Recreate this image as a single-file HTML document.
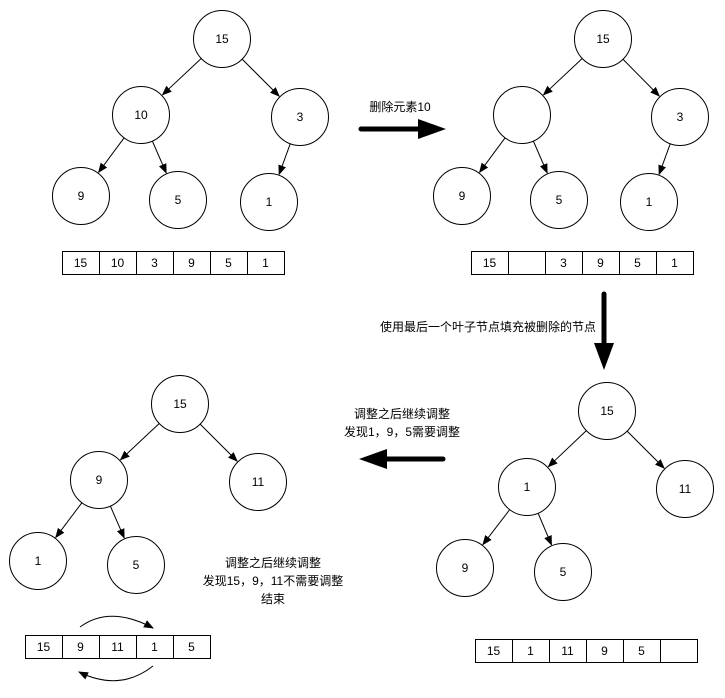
<!DOCTYPE html>
<html><head><meta charset="utf-8"><style>
html,body{margin:0;padding:0;background:#fff;}
svg{display:block}
text{font-family:"Liberation Sans","Noto Sans CJK SC",sans-serif;font-size:12px;fill:#000;}
</style></head><body>
<svg id="s" width="725" height="698" viewBox="0 0 725 698" xmlns="http://www.w3.org/2000/svg">
<defs>
<marker id="ah" markerWidth="10" markerHeight="10" refX="9" refY="5" orient="auto" markerUnits="userSpaceOnUse"><path d="M0,1 L10,5 L0,9 Z" fill="#000"/></marker>
</defs>
<g id="g" fill="#fff" stroke="#000" stroke-width="1"></g>
<g text-anchor="middle" dominant-baseline="central">
<text x="222" y="39">15</text><text x="141" y="115">10</text><text x="300" y="117">3</text>
<text x="81" y="196">9</text><text x="178" y="200">5</text><text x="269" y="202">1</text>
<text x="603" y="39">15</text><text x="680" y="117">3</text>
<text x="462" y="196">9</text><text x="559" y="200">5</text><text x="649" y="202">1</text>
<text x="607" y="411">15</text><text x="527" y="487">1</text><text x="685" y="489">11</text>
<text x="465" y="568">9</text><text x="563" y="572">5</text>
<text x="180" y="404">15</text><text x="99" y="480">9</text><text x="258" y="482">11</text>
<text x="38" y="561">1</text><text x="136" y="565">5</text>
<text x="80.5" y="263">15</text><text x="117.5" y="263">10</text><text x="154.5" y="263">3</text><text x="191.5" y="263">9</text><text x="228.5" y="263">5</text><text x="265.5" y="263">1</text>
<text x="489.5" y="263">15</text><text x="563.5" y="263">3</text><text x="600.5" y="263">9</text><text x="637.5" y="263">5</text><text x="674.5" y="263">1</text>
<text x="493.5" y="651">15</text><text x="530.5" y="651">1</text><text x="567.5" y="651">11</text><text x="604.5" y="651">9</text><text x="641.5" y="651">5</text>
<text x="43.5" y="647">15</text><text x="80.5" y="647">9</text><text x="117.5" y="647">11</text><text x="154.5" y="647">1</text><text x="191.5" y="647">5</text>
<text x="400" y="107">删除元素10</text>
<text x="488" y="327">使用最后一个叶子节点填充被删除的节点</text>
<text x="402" y="414">调整之后继续调整</text>
<text x="402" y="432">发现1，9，5需要调整</text>
<text x="273" y="563">调整之后继续调整</text>
<text x="273" y="581">发现15，9，11不需要调整</text>
<text x="273" y="599">结束</text>
</g>
<g stroke="#000" stroke-width="5" stroke-linecap="round" fill="none">
<line x1="361" y1="129" x2="420" y2="129"/>
<line x1="604" y1="294" x2="604" y2="345"/>
<line x1="443" y1="459" x2="385" y2="459"/>
</g>
<g fill="#000">
<path d="M418,119 L446,129 L418,139 Z"/>
<path d="M594,343 L604,370 L614,343 Z"/>
<path d="M387,449 L359,459 L387,469 Z"/>
</g>
<g fill="none" stroke="#000" stroke-width="1">
<path d="M80,627 Q110,605 153,628" marker-end="url(#ah)"/>
<path d="M153,666 Q120,692 79,672" marker-end="url(#ah)"/>
</g>
</svg>
<script>
var g=document.getElementById('g'),NS='http://www.w3.org/2000/svg';
function el(t,a){var e=document.createElementNS(NS,t);for(var k in a)e.setAttribute(k,a[k]);g.appendChild(e);return e;}
var R=28.5;
function tree(n,edges){
 edges.forEach(function(p){var a=n[p[0]],b=n[p[1]];var dx=b[0]-a[0],dy=b[1]-a[1],d=Math.hypot(dx,dy);
  el('line',{x1:a[0]+dx/d*R,y1:a[1]+dy/d*R,x2:b[0]-dx/d*(R+1),y2:b[1]-dy/d*(R+1),'marker-end':'url(#ah)'});});
 n.forEach(function(c){el('circle',{cx:c[0],cy:c[1],r:R});});
}
tree([[222,39],[141,115],[300,117],[81,196],[178,200],[269,202]],[[0,1],[0,2],[1,3],[1,4],[2,5]]);
tree([[603,39],[522,115],[680,117],[462,196],[559,200],[649,202]],[[0,1],[0,2],[1,3],[1,4],[2,5]]);
tree([[607,411],[527,487],[685,489],[465,568],[563,572]],[[0,1],[0,2],[1,3],[1,4]]);
tree([[180,404],[99,480],[258,482],[38,561],[136,565]],[[0,1],[0,2],[1,3],[1,4]]);
function arr(x,y,n){for(var i=0;i<n;i++)el('rect',{x:x+37*i+0.5,y:y+0.5,width:37,height:23});}
arr(62,251,6);arr(471,251,6);arr(475,639,6);arr(25,635,5);
</script>
</body></html>
